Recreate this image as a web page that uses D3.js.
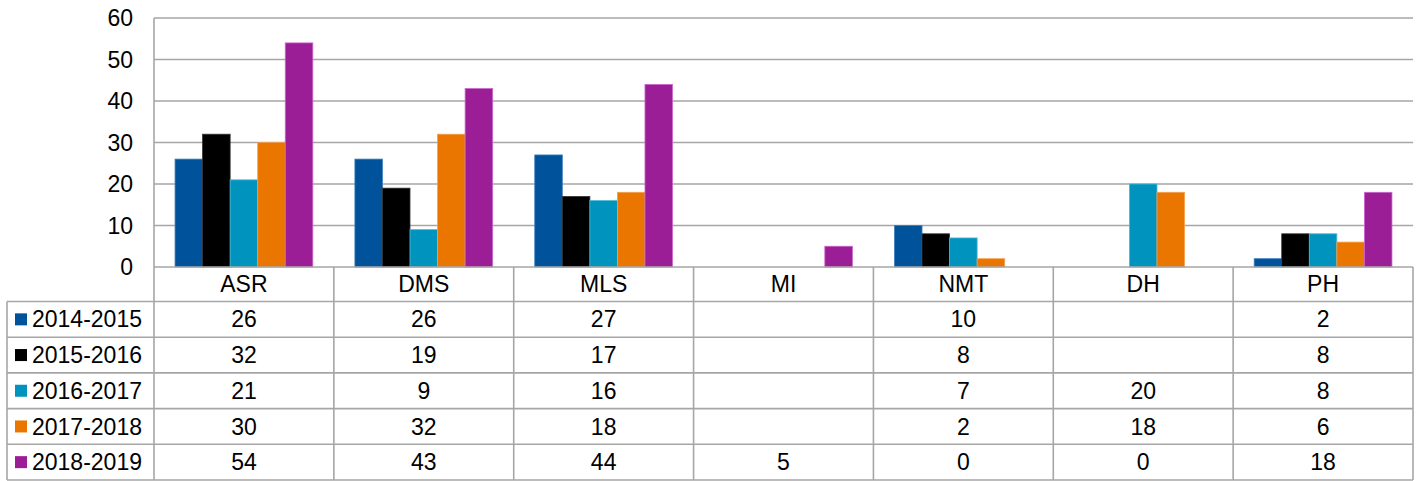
<!DOCTYPE html>
<html>
<head>
<meta charset="utf-8">
<script src="https://cdn.jsdelivr.net/npm/d3@7"></script>
<style>
  body { margin: 0; background: #fff; }
  svg { display: block; font-family: "Liberation Sans", Arial, sans-serif; }
</style>
</head>
<body>
<div id="chart"></div>
<script>
// data
const categories = ["ASR", "DMS", "MLS", "MI", "NMT", "DH", "PH"];
const seriesNames = ["2014-2015", "2015-2016", "2016-2017", "2017-2018", "2018-2019"];
const v2014 = [26, 26, 27, null, 10, null, 2];
const v2015 = [32, 19, 17, null, 8, null, 8];
const v2016 = [21, 9, 16, null, 7, 20, 8];
const v2017 = [30, 32, 18, null, 2, 18, 6];
const v2018 = [54, 43, 44, 5, 0, 0, 18];
const yTicks = [0, 10, 20, 30, 40, 50, 60];

const colors = ["#00529b", "#000000", "#0093be", "#ea7600", "#9b1e96"];
const strokes = ["#3d7fc0", "#333333", "#4fb8d8", "#f3a050", "#cc66cc"];

const values = [v2014, v2015, v2016, v2017, v2018];

const width = 1420, height = 481;
const plotLeft = 154, plotRight = 1413, plotTop = 18, plotBottom = 267;
const tableLeft = 7, headerBottom = 301.5, rowH = 35.7;
const fontSize = 23;
const gridColor = "#a6a6a6";

const svg = d3.select("#chart").append("svg")
    .attr("width", width)
    .attr("height", height);

const x0 = d3.scaleBand().domain(categories).range([plotLeft, plotRight]);
const bw = x0.bandwidth();
const x1 = d3.scaleBand().domain(seriesNames).range([bw * 0.117, bw * 0.883]);
const y = d3.scaleLinear().domain([0, 60]).range([plotBottom, plotTop]);

// gridlines
svg.append("g")
    .selectAll("line")
    .data(yTicks.filter(d => d > 0))
    .enter().append("line")
    .attr("x1", plotLeft).attr("x2", plotRight)
    .attr("y1", d => y(d)).attr("y2", d => y(d))
    .attr("stroke", gridColor).attr("stroke-width", 1.3);

// y tick labels
svg.append("g")
    .selectAll("text")
    .data(yTicks)
    .enter().append("text")
    .attr("x", 133)
    .attr("y", d => y(d))
    .attr("dy", "0.35em")
    .attr("text-anchor", "end")
    .attr("font-size", fontSize)
    .attr("fill", "#000")
    .text(d => d);

// bars
const groups = svg.append("g")
    .selectAll("g")
    .data(categories)
    .enter().append("g")
    .attr("transform", d => `translate(${x0(d)},0)`);

groups.selectAll("rect")
    .data((c, ci) => seriesNames.map((s, si) => ({s: s, si: si, v: values[si][ci]})))
    .enter().filter(d => d.v !== null && d.v > 0).append("rect")
    .attr("x", d => x1(d.s))
    .attr("width", x1.bandwidth())
    .attr("y", d => y(d.v))
    .attr("height", d => y(0) - y(d.v))
    .attr("fill", d => colors[d.si])
    .attr("stroke", d => strokes[d.si])
    .attr("stroke-width", 0.8);

// table
const table = svg.append("g");
const rowY = i => headerBottom + i * rowH;
const tableBottom = rowY(seriesNames.length);

// horizontal lines
table.append("line")
    .attr("x1", plotLeft).attr("x2", plotRight)
    .attr("y1", plotBottom).attr("y2", plotBottom)
    .attr("stroke", gridColor).attr("stroke-width", 1.6);
d3.range(seriesNames.length + 1).forEach(i => {
    table.append("line")
        .attr("x1", tableLeft).attr("x2", plotRight)
        .attr("y1", rowY(i)).attr("y2", rowY(i))
        .attr("stroke", gridColor).attr("stroke-width", 1.6);
});

// vertical lines
table.append("line")
    .attr("x1", tableLeft).attr("x2", tableLeft)
    .attr("y1", headerBottom).attr("y2", tableBottom)
    .attr("stroke", gridColor).attr("stroke-width", 1.6);
table.append("line")
    .attr("x1", plotLeft).attr("x2", plotLeft)
    .attr("y1", plotTop).attr("y2", tableBottom)
    .attr("stroke", gridColor).attr("stroke-width", 1.6);
categories.forEach(c => {
    const xr = x0(c) + bw;
    table.append("line")
        .attr("x1", xr).attr("x2", xr)
        .attr("y1", plotBottom).attr("y2", tableBottom)
        .attr("stroke", gridColor).attr("stroke-width", 1.6);
});

// category header
table.selectAll(".cat")
    .data(categories)
    .enter().append("text")
    .attr("class", "cat")
    .attr("x", d => x0(d) + bw / 2)
    .attr("y", (plotBottom + headerBottom) / 2)
    .attr("dy", "0.35em")
    .attr("text-anchor", "middle")
    .attr("font-size", fontSize)
    .text(d => d);

// legend cells
seriesNames.forEach((s, si) => {
    const cy = rowY(si) + rowH / 2;
    table.append("rect")
        .attr("x", 15).attr("y", cy - 6)
        .attr("width", 12).attr("height", 12)
        .attr("fill", colors[si]);
    table.append("text")
        .attr("x", 32).attr("y", cy)
        .attr("dy", "0.35em")
        .attr("font-size", fontSize)
        .text(s);
    table.selectAll(".v" + si)
        .data(categories)
        .enter().append("text")
        .attr("x", d => x0(d) + bw / 2)
        .attr("y", cy)
        .attr("dy", "0.35em")
        .attr("text-anchor", "middle")
        .attr("font-size", fontSize)
        .text((d, ci) => values[si][ci] === null ? "" : values[si][ci]);
});
</script>
</body>
</html>
